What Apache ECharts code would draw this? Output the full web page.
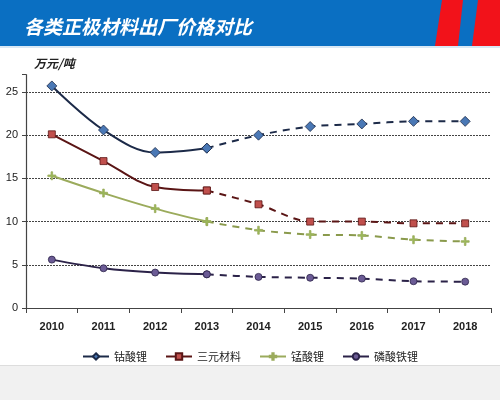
<!DOCTYPE html>
<html><head><meta charset="utf-8">
<script src="https://cdn.jsdelivr.net/npm/echarts@6/dist/echarts.min.js"></script>
<style>html,body{margin:0;padding:0;background:#fff}#c{width:500px;height:400px}</style>
</head><body><div id="c"></div>
<script>
var years = ['2010','2011','2012','2013','2014','2015','2016','2017','2018'];
var names = ['钴酸锂','三元材料','锰酸锂','磷酸铁锂'];
var cobalt = [25.7, 20.6, 18.0, 18.5, 20.0, 21.0, 21.3, 21.6, 21.6];
var ternary = [20.1, 17.0, 14.0, 13.6, 12.0, 10.0, 10.0, 9.8, 9.8];
var manganese = [15.3, 13.3, 11.5, 10.0, 9.0, 8.5, 8.4, 7.9, 7.7];
var lfp = [5.6, 4.6, 4.1, 3.9, 3.6, 3.5, 3.4, 3.1, 3.05];
var actualEnd = 3; // index of 2013: solid up to here, forecast dashed after
var yTicks = [0, 5, 10, 15, 20, 25];

var styles = [
  {line:'#1c2a48', mark:'#4a78b5', symbol:'diamond', size:10},
  {line:'#5a1515', mark:'#c0504d', symbol:'rect', size:7},
  {line:'#9bab5c', mark:'#9bbb59', symbol:'path://M4,0L6,0L6,4L10,4L10,6L6,6L6,10L4,10L4,6L0,6L0,4L4,4Z', size:8},
  {line:'#2b2248', mark:'#6b5b95', symbol:'circle', size:7}
];
var datas = [cobalt, ternary, manganese, lfp];
var series = [];
datas.forEach(function(d, i){
  var s = styles[i];
  var solid = d.map(function(v, k){ return k <= actualEnd ? v : null; });
  var dashed = d.map(function(v, k){ return k >= actualEnd ? v : null; });
  series.push({name:names[i], type:'line', data:solid, smooth:0.35, symbol:s.symbol, symbolSize:s.size,
    showAllSymbol:true, lineStyle:{color:s.line, width:2}, itemStyle:{color:s.mark, borderColor:s.line, borderWidth:0.8}, z:3});
  series.push({name:names[i], type:'line', data:dashed, smooth:0.3, symbol:s.symbol, symbolSize:s.size,
    lineStyle:{color:(i===2? '#8a9a4c' : s.line), width:2, type:[7,6]}, itemStyle:{color:s.mark, borderColor:s.line, borderWidth:0.8}, z:2});
});

var chart = echarts.init(document.getElementById('c'));
chart.setOption({
  animation:false,
  backgroundColor:'#fff',
  graphic:[
    {type:'rect', shape:{x:0,y:0,width:500,height:46}, style:{fill:'#0a6fc2'}, z:-1},
    {type:'rect', shape:{x:0,y:46,width:500,height:2}, style:{fill:'#d9e8f5'}, z:-1},
    {type:'polygon', shape:{points:[[442,0],[463,0],[458,46],[435,46]]}, style:{fill:'#f2121a'}, z:-1},
    {type:'polygon', shape:{points:[[478,0],[500,0],[500,46],[472,46]]}, style:{fill:'#f2121a'}, z:-1},
    {type:'rect', shape:{x:0,y:366,width:500,height:34}, style:{fill:'#f1f1f1'}, z:-1},
    {type:'rect', shape:{x:0,y:365,width:500,height:1}, style:{fill:'#dddddd'}, z:-1}
  ],
  title:{text:'各类正极材料出厂价格对比', left:19, top:12,
    textStyle:{color:'#fff', fontSize:19, fontWeight:'bold', fontStyle:'italic', fontFamily:'Noto Sans CJK SC'}},
  legend:{bottom:33, left:'center', itemWidth:26, itemHeight:8, itemGap:18,
    textStyle:{fontSize:11, color:'#222', fontFamily:'Noto Sans CJK SC'}},
  grid:{left:26, right:9, top:74.7, bottom:92},
  xAxis:{type:'category', data:years, boundaryGap:true,
    axisLine:{lineStyle:{color:'#444', width:1.2}},
    axisTick:{show:true, alignWithLabel:false, length:5, lineStyle:{color:'#444'}},
    axisLabel:{color:'#222', fontSize:11, fontWeight:'bold', margin:13, fontFamily:'Liberation Sans'}},
  yAxis:{type:'value', min:0, max:27, interval:5,
    name:'万元/吨', nameLocation:'end', nameGap:5,
    nameTextStyle:{color:'#222', fontSize:12, fontWeight:'bold', fontStyle:'italic', align:'left', padding:[0,0,0,8], fontFamily:'Noto Sans CJK SC'},
    axisLine:{show:true, lineStyle:{color:'#444', width:1.2}},
    axisTick:{show:true, length:4, lineStyle:{color:'#444'}},
    axisLabel:{color:'#222', fontSize:11, margin:8, fontFamily:'Liberation Sans',
      formatter:function(v){ return yTicks.indexOf(v) >= 0 ? String(v) : ''; }},
    splitLine:{show:true, lineStyle:{color:['#444','#444','#444','#444','#444','#444','rgba(0,0,0,0)'], type:[2,1], width:1}}},
  series:series
});
</script></body></html>
